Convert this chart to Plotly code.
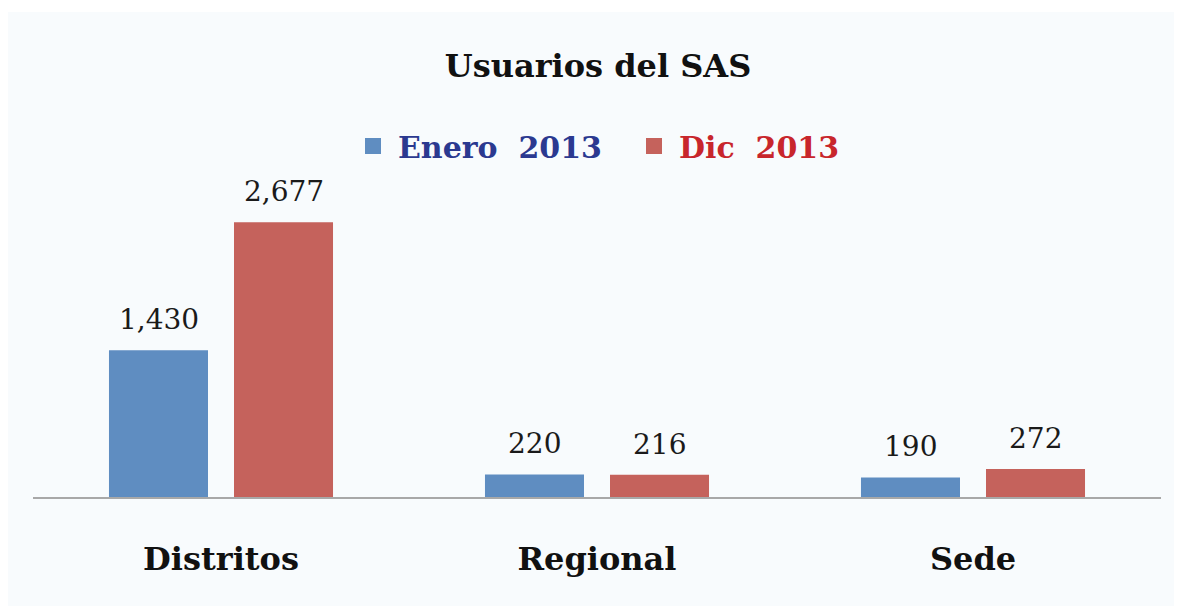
import plotly.graph_objects as go

categories = ["Distritos", "Regional", "Sede"]
enero_2013 = [1430, 220, 190]
dic_2013 = [2677, 216, 272]
series_names = ["Enero&nbsp;&nbsp;2013", "Dic&nbsp;&nbsp;2013"]

# figure is placed by the page at (8, 8)
W, H = 1174, 598
ml, mr, mt = 25, 21, 181
mb = H - 489
pw, ph = W - ml - mr, H - mt - mb

BG = "#F8FBFD"
BLUE = "#5F8DC1"
RED = "#C5625C"
BLUE_TXT = "#2B3990"
RED_TXT = "#C8262C"
SERIF = "DejaVu Serif"
SLOT = 125  # pixel distance between grouped bars

fig = go.Figure()
for vals, color in [(enero_2013, BLUE), (dic_2013, RED)]:
    fig.add_trace(go.Bar(
        x=categories, y=vals, showlegend=False,
        marker=dict(color=color, line=dict(width=0)),
    ))
# legend entries (large square swatches)
for color, name, tcol in [(BLUE, series_names[0], BLUE_TXT), (RED, series_names[1], RED_TXT)]:
    fig.add_trace(go.Scatter(
        x=[None], y=[None], mode="markers",
        marker=dict(symbol="square", size=18, color=color, line=dict(width=0)),
        name=f"<b><span style='color:{tcol}'>{name}</span></b>",
    ))

# value labels
for vals, shift in [(enero_2013, -SLOT / 2), (dic_2013, SLOT / 2)]:
    for c, v in zip(categories, vals):
        fig.add_annotation(x=c, y=v, text=f"{v:,}", showarrow=False,
                           xshift=shift, yshift=12, yanchor="bottom",
                           font=dict(family=SERIF, size=28, color="#1A1A1A"))

# thin white strip along the top edge
fig.add_shape(type="rect", xref="paper", yref="paper", layer="below",
              x0=-ml / pw, x1=(W - ml) / pw,
              y0=(H - 4 - mb) / ph, y1=(H - mb) / ph,
              fillcolor="white", line=dict(width=0))

fig.update_layout(
    width=W, height=H,
    margin=dict(l=ml, r=mr, t=mt, b=mb, pad=0),
    paper_bgcolor=BG, plot_bgcolor="rgba(0,0,0,0)",
    barmode="group", bargap=0.335, bargroupgap=0.208,
    title=dict(text="<b>Usuarios del SAS</b>", x=590 / W, xanchor="center",
               y=1 - 58 / H, yanchor="middle", yref="container",
               font=dict(family=SERIF, size=32, color="#111111")),
    legend=dict(orientation="h", x=340 / W, xanchor="left", xref="container",
                y=1 - 138 / H, yanchor="middle", yref="container",
                font=dict(family=SERIF, size=30), bgcolor="rgba(0,0,0,0)",
                itemwidth=40, entrywidth=226,
                itemclick=False, itemdoubleclick=False),
    showlegend=True,
    xaxis=dict(showline=True, linecolor="#A8A8A8", linewidth=2,
               showgrid=False, ticks="", ticklabelstandoff=33,
               tickfont=dict(family=SERIF, size=32, color="#111111"),
               tickprefix="<b>", ticksuffix="</b>"),
    yaxis=dict(range=[0, 3000], visible=False, showgrid=False),
    font=dict(family=SERIF),
)

fig.write_html("out.html")
